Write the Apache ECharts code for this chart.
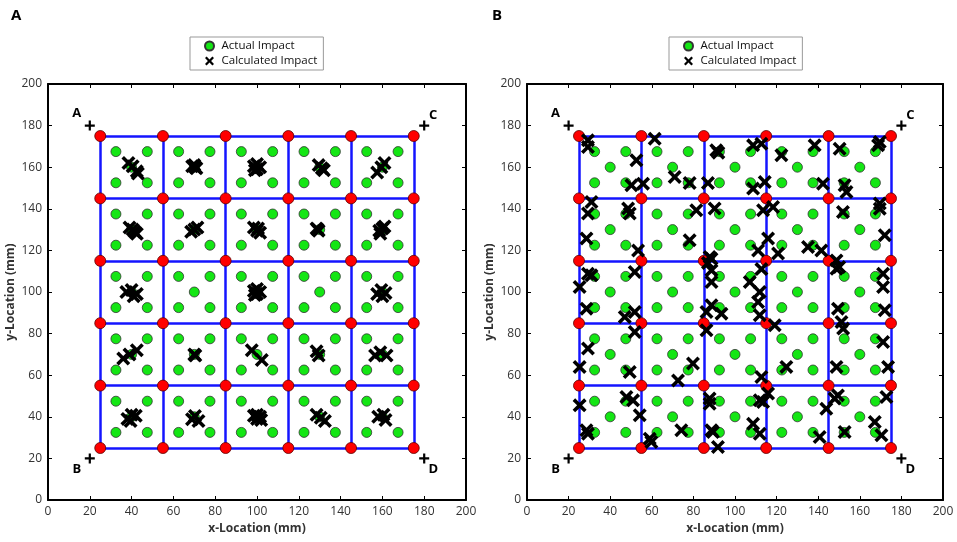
<!DOCTYPE html>
<html>
<head>
<meta charset="utf-8">
<script src="https://cdn.jsdelivr.net/npm/echarts@6/dist/echarts.min.js"></script>
<style>
  html, body { margin: 0; padding: 0; background: #fff; }
  #container { width: 957px; height: 542px; }
</style>
</head>
<body>
<div id="container"></div>
<script>
var dom = document.getElementById('container');
var myChart = echarts.init(dom, null, { renderer: 'canvas' });

// sensor grid lines (mm)
const gridLines = [25, 55, 85, 115, 145, 175];
// actual impact positions: corner rows/cols and cell centres (mm)
const actualCorner = [32.5, 47.5, 62.5, 77.5, 92.5, 107.5, 122.5, 137.5, 152.5, 167.5];
const actualCenter = [40, 70, 100, 130, 160];
// reference corners
const cornerNames = ['A', 'B', 'C', 'D'];
const cornerX = [20, 20, 180, 180];
const cornerY = [180, 20, 180, 20];

// calculated impacts, panel A
const calcA = [
  [38.5, 162], [40.5, 160.5], [42.5, 158], [43, 157],
  [69, 160.5], [70.5, 160], [71, 159.5], [70, 161],
  [98.5, 160.5], [100, 159], [101.5, 160], [100, 161.5], [99, 158.5],
  [129.5, 161], [131, 159.5], [132, 158.5],
  [157.5, 157.5], [159.5, 160], [161, 162],
  [39, 131], [40.5, 130], [41.5, 129], [42.5, 128],
  [68.5, 129], [70, 130], [71.5, 131],
  [98.5, 131], [100, 129.5], [101.5, 128.5], [100.5, 130.5],
  [128.5, 130.5], [129.5, 129.5], [129, 130],
  [158.5, 129.5], [160, 130.5], [161, 131.5], [159, 128],
  [37.5, 100], [40, 101], [42.5, 99], [41, 98],
  [98.5, 100.5], [100, 99], [101.5, 100], [100, 101.5], [99, 98.5],
  [157.5, 99], [159.5, 101], [161.5, 99.5], [160, 98],
  [36, 68], [39, 70], [42.5, 72],
  [70, 70], [70.5, 69.5],
  [97.5, 72], [102.3, 67.3],
  [128.5, 71.5], [129.5, 69.5],
  [156.5, 69.5], [159, 71], [162, 69.5],
  [38, 39], [40, 41], [42, 40.5], [39.5, 38],
  [68.9, 38.8], [70.3, 40.4], [72, 38],
  [98.5, 40.5], [100, 39], [101.5, 40], [100, 41], [102, 38.5],
  [128.5, 41], [130.5, 39.5], [132.5, 38],
  [158, 40], [160.5, 41], [161.5, 38.5]
];

// calculated impacts, panel B
const calcB = [
  [29.3, 172.9], [29.3, 169.7], [52.6, 163.3], [50.2, 151.3], [55.8, 152.1],
  [61.4, 173.7], [71.0, 155.3], [78.2, 152.4], [87.0, 152.4], [91.0, 168.1], [92.0, 167.0],
  [108.7, 170.5], [112.7, 171.3], [114.3, 152.9], [108.7, 149.7],
  [122.3, 165.7], [138.3, 170.5], [142.3, 152.1],
  [150.3, 168.9], [152.7, 151.3], [153.6, 148.1], [169.6, 172.1], [168.8, 170.5],
  [31.0, 143.3], [29.3, 137.7], [28.6, 125.7], [48.6, 140.1], [49.4, 137.7], [53.4, 120.0],
  [81.4, 139.3], [78.2, 124.9], [90.2, 140.1], [87.8, 116.8], [87.0, 114.0], [88.7, 116.0],
  [113.5, 139.3], [118.3, 140.9], [115.9, 125.7], [111.1, 120.0], [120.7, 118.5],
  [135.1, 121.6], [141.5, 120.0], [148.8, 115.2],
  [151.9, 138.5], [169.6, 142.5], [169.6, 140.0], [172.0, 127.3],
  [29.3, 108.8], [31.0, 108.0], [25.3, 102.4], [28.6, 92.0], [51.8, 109.6], [47.0, 88.0], [51.8, 90.4], [51.8, 80.8],
  [88.7, 110.4], [88.7, 104.8], [88.7, 93.6], [86.3, 90.4], [93.5, 89.6], [86.3, 81.6],
  [107.1, 104.8], [112.7, 111.0], [111.9, 100.0], [111.1, 95.2], [111.9, 88.8], [119.1, 84.0],
  [148.8, 111.2], [150.1, 112.0], [149.5, 92.0], [151.2, 85.6], [152.0, 82.4], [171.2, 108.8], [171.2, 102.4], [172.0, 91.2],
  [29.3, 72.8], [25.3, 63.9], [49.4, 61.5], [79.8, 65.6], [72.6, 57.5], [112.7, 59.1], [124.7, 64.0], [171.2, 76.0], [148.8, 64.0], [173.6, 64.0],
  [25.3, 45.5], [47.8, 49.5], [51.0, 47.9], [54.2, 40.7], [28.6, 33.5], [29.3, 31.9], [59.0, 29.5], [59.8, 27.9], [74.2, 33.5],
  [87.8, 48.8], [87.8, 46.3], [88.7, 33.5], [91.8, 25.5], [89.4, 32.7],
  [111.9, 48.0], [113.5, 47.1], [115.9, 51.2], [108.7, 36.7], [111.9, 31.9],
  [140.7, 30.3], [143.9, 43.9], [147.9, 48.8], [149.5, 50.3], [152.7, 32.7], [167.2, 37.5], [170.4, 31.1], [172.8, 49.5]
];

const fontFamily = '"Open Sans", "DejaVu Sans", sans-serif';
const xPath = 'path://M1.8,0 L5,3.2 L8.2,0 L10,1.8 L6.8,5 L10,8.2 L8.2,10 L5,6.8 L1.8,10 L0,8.2 L3.2,5 L0,1.8 Z';
const plusPath = 'path://M3.9,0 H6.1 V3.9 H10 V6.1 H6.1 V10 H3.9 V6.1 H0 V3.9 H3.9 Z';

// build derived point sets
let lo = gridLines[0], hi = gridLines[gridLines.length - 1];
let sensorPts = [];
gridLines.forEach(x => gridLines.forEach(y => sensorPts.push([x, y])));
let wires = [];
gridLines.forEach(v => {
  wires.push({ coords: [[v, lo], [v, hi]] });
  wires.push({ coords: [[lo, v], [hi, v]] });
});
let actualPts = [];
actualCorner.forEach(x => actualCorner.forEach(y => actualPts.push([x, y])));
actualCenter.forEach(x => actualCenter.forEach(y => actualPts.push([x, y])));

const labelOffsets = { A: [-13, -12], B: [-13, 11], C: [9, -10], D: [9, 11] };
let cornerPts = cornerNames.map((n, i) => ({
  name: n,
  value: [cornerX[i], cornerY[i]],
  label: { offset: labelOffsets[n] }
}));

function axisPair(gi) {
  let base = {
    gridIndex: gi, type: 'value', min: 0, max: 200, interval: 20,
    splitLine: { show: false },
    axisLine: { show: true, onZero: false, lineStyle: { color: '#000', width: 2 } },
    axisTick: { show: true, inside: true, length: 4, lineStyle: { color: '#000', width: 1 } }
  };
  let labelled = Object.assign({}, base, {
    axisLabel: { show: true, fontSize: 12, color: '#333', fontFamily: fontFamily, margin: 6 },
    nameLocation: 'middle',
    nameTextStyle: { fontSize: 12, fontWeight: 'bold', color: '#333', fontFamily: fontFamily }
  });
  let plain = Object.assign({}, base, { axisLabel: { show: false } });
  return [labelled, plain];
}

let xAxes = [], yAxes = [];
[0, 1].forEach(gi => {
  let xs = axisPair(gi), ys = axisPair(gi);
  xs[0].position = 'bottom'; xs[0].name = 'x-Location (mm)'; xs[0].nameGap = 23;
  xs[1].position = 'top';
  ys[0].position = 'left'; ys[0].name = 'y-Location (mm)'; ys[0].nameGap = 31;
  ys[1].position = 'right';
  xAxes.push(xs[0], xs[1]);
  yAxes.push(ys[0], ys[1]);
});

function panelSeries(gi, calc) {
  let ax = gi * 2;
  return [
    {
      type: 'lines', coordinateSystem: 'cartesian2d', xAxisIndex: ax, yAxisIndex: ax,
      polyline: false, silent: true, z: 2,
      lineStyle: { color: '#1414ff', width: 2.5, opacity: 1 },
      data: wires
    },
    {
      name: 'sensors', type: 'scatter', xAxisIndex: ax, yAxisIndex: ax, z: 3,
      symbol: 'circle', symbolSize: 11,
      itemStyle: { color: '#ff0000', borderColor: '#5a0000', borderWidth: 0.8, opacity: 1 },
      data: sensorPts
    },
    {
      name: 'Actual Impact', type: 'scatter', xAxisIndex: ax, yAxisIndex: ax, z: 4,
      symbol: 'circle', symbolSize: 10,
      itemStyle: { color: '#14e614', borderColor: '#333', borderWidth: 0.8, opacity: 1 },
      data: actualPts
    },
    {
      name: 'Calculated Impact', type: 'scatter', xAxisIndex: ax, yAxisIndex: ax, z: 5,
      symbol: xPath, symbolSize: 14,
      itemStyle: { color: '#000', opacity: 1 },
      data: calc
    },
    {
      name: 'corners', type: 'scatter', xAxisIndex: ax, yAxisIndex: ax, z: 6,
      symbol: plusPath, symbolSize: 10,
      itemStyle: { color: '#000', opacity: 1 },
      label: {
        show: true, position: 'inside', formatter: '{b}',
        fontSize: 13, fontWeight: 'bold', color: '#000', fontFamily: fontFamily
      },
      data: cornerPts
    }
  ];
}

function legendFor(left) {
  return {
    left: left, top: 37, orient: 'vertical',
    data: ['Actual Impact', 'Calculated Impact'],
    borderColor: '#999', borderWidth: 1,
    padding: [3, 6, 3, 14], itemGap: 3, itemWidth: 14, itemHeight: 9,
    textStyle: { fontSize: 11.5, color: '#111', fontFamily: fontFamily }
  };
}

var option = {
  animation: false,
  backgroundColor: '#fff',
  title: [
    { text: 'A', left: 6, top: 3, textStyle: { fontSize: 15, fontWeight: 'bold', color: '#000', fontFamily: fontFamily } },
    { text: 'B', left: 487, top: 3, textStyle: { fontSize: 15, fontWeight: 'bold', color: '#000', fontFamily: fontFamily } }
  ],
  legend: [legendFor(190), legendFor(669)],
  grid: [
    { left: 48, top: 84, width: 418, height: 416 },
    { left: 527, top: 84, width: 416, height: 416 }
  ],
  xAxis: xAxes,
  yAxis: yAxes,
  series: panelSeries(0, calcA).concat(panelSeries(1, calcB))
};

myChart.setOption(option);
window.addEventListener('resize', myChart.resize);
</script>
</body>
</html>
